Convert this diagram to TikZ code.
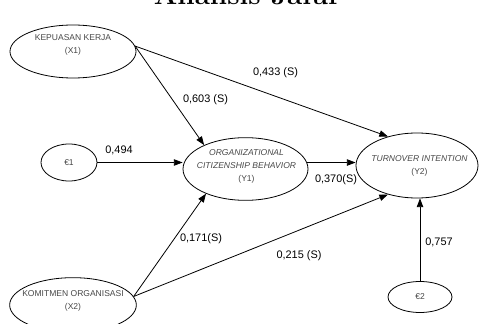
\documentclass[tikz,border=0pt]{standalone}
\usepackage{fontspec}
\newfontfamily\lsans{Liberation Sans}
\usetikzlibrary{shapes.geometric,arrows.meta}
\begin{document}
\begin{tikzpicture}[x=0.75pt,y=-0.75pt,
  ell/.style={draw,ellipse,line width=0.6pt,inner sep=0pt},
  etext/.style={font=\lsans\fontsize{6.4}{10}\selectfont,text=black!72,align=center,inner sep=0pt},
  lbl/.style={font=\lsans\fontsize{8.2}{10}\selectfont,inner sep=0pt},
  arr/.style={line width=0.6pt,-{Triangle[length=6.5pt,width=4.8pt]}}]
\useasboundingbox (0,0) rectangle (479,324);
\clip (0,0) rectangle (479,324);
% title
\node[anchor=base,font=\fontsize{20.8}{25}\selectfont\bfseries,inner sep=0pt] (title) at (247.5,5) {Analisis Jalur};
% ellipses
\node[ell,minimum width=94.5pt,minimum height=39.75pt] (x1) at (73,51.5) {};
\node[ell,minimum width=95pt,minimum height=41pt] (x2) at (73,305) {};
\node[ell,minimum width=42pt,minimum height=27.75pt] (e1) at (69,162.5) {};
\node[ell,minimum width=48pt,minimum height=23.25pt] (e2) at (420,297) {};
\node[ell,minimum width=93.75pt,minimum height=47pt] (ocb) at (245.5,169) {};
\node[ell,minimum width=91.5pt,minimum height=48.75pt] (y2) at (417,165.5) {};
% ellipse texts
\node[etext] (tx1) at (73,45) {KEPUASAN KERJA\\(X1)};
\node[etext] (tx2) at (73,301) {KOMITMEN ORGANISASI\\(X2)};
\node[etext] (te1) at (69,163) {€1};
\node[etext] (te2) at (420,297) {€2};
\node[etext] (tocb) at (246.5,166.5) {\itshape ORGANIZATIONAL\\\itshape CITIZENSHIP BEHAVIOR\\(Y1)};
\node[etext] (ty2) at (419.5,166) {\itshape TURNOVER INTENTION\\(Y2)};
% connectors
\draw[arr] (x1.5) -- (ocb.150);
\draw[arr] (x1.5) -- (y2.135);
\draw[arr] (x2.8) -- (ocb.212);
\draw[arr] (x2.8) -- (y2.225);
\draw[arr] (e1.east) -- (e1.east -| ocb.west);
\draw[arr] (ocb.6) -- (ocb.6 -| y2.west);
\draw[arr] (e2.north) -- (e2.north |- y2.south);
% labels
\node[lbl] (l1) at (275.5,73) {0,433 (S)};
\node[lbl] (l2) at (205.5,100) {0,603 (S)};
\node[lbl] (l3) at (119,150) {0,494};
\node[lbl] (l4) at (336,180) {0,370(S)};
\node[lbl] (l5) at (201,239) {0,171(S)};
\node[lbl] (l6) at (299,256) {0,215 (S)};
\node[lbl] (l7) at (439,242) {0,757};
\end{tikzpicture}
\end{document}
